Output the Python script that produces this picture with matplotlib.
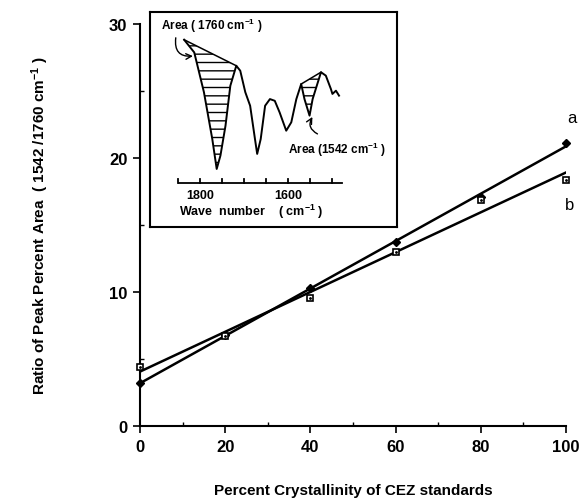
import numpy as np
import matplotlib
matplotlib.use("Agg")
import matplotlib.pyplot as plt
from matplotlib.ticker import MultipleLocator, NullFormatter

plt.rcParams['font.family'] = ['Liberation Sans', 'DejaVu Sans']
plt.rcParams['mathtext.default'] = 'regular'
plt.rcParams['hatch.linewidth'] = 1.0

# CEZ standards: percent crystallinity vs ratio of peak percent area
crystallinity = [0, 20, 40, 60, 80, 100]
ratio_a = [3.2, 6.8, 10.3, 13.7, 17.1, 21.1]
ratio_b = [4.4, 6.7, 9.55, 13.0, 16.9, 18.4]

# inset IR spectrum (sketch), wavenumber vs transmittance (arbitrary units)
wavenumber = [1836, 1813, 1791, 1772, 1762, 1753.5, 1742, 1731, 1717.5, 1708.5,
              1697, 1686, 1675, 1670, 1662, 1652, 1641, 1630, 1619, 1604,
              1592.5, 1581, 1570, 1562.5, 1551, 1544, 1525, 1514, 1502.5, 1499,
              1491, 1484]
transmittance = [87.1, 81.2, 62.7, 40.9, 27.0, 33.2, 47.1, 65.7, 75.0, 72.7,
                 62.7, 56.4, 40.9, 34.0, 40.9, 56.4, 59.5, 58.7, 53.3, 44.8,
                 48.7, 59.5, 66.5, 59.5, 51.8, 59.5, 72.0, 70.4, 64.2, 61.9,
                 63.4, 61.1]

fig = plt.figure(figsize=(5.82, 5.02), dpi=100)
ax = fig.add_axes([0.2405, 0.1494, 0.732, 0.8006])

# fitted lines
xfit = np.array([0, 100])
for ys in (ratio_a, ratio_b):
    k, b = np.polyfit(crystallinity, ys, 1)
    ax.plot(xfit, k * xfit + b, color='black', lw=1.8, zorder=2)

ax.plot(crystallinity, ratio_a, linestyle='none', marker='D', ms=4,
        mfc='black', mec='black', zorder=3, clip_on=False)
ax.plot(crystallinity, ratio_b, linestyle='none', marker='s', ms=5,
        mfc='white', mec='black', mew=1.2, zorder=3, clip_on=False)
ax.plot(crystallinity, ratio_b, linestyle='none', marker='.', ms=2,
        color='black', zorder=4, clip_on=False)

ax.text(101.4, 23.0, 'a', fontsize=12, ha='center', va='center')
ax.text(100.9, 16.5, 'b', fontsize=12, ha='center', va='center')

ax.set_xlim(0, 100)
ax.set_ylim(0, 30)
ax.xaxis.set_major_locator(MultipleLocator(20))
ax.xaxis.set_minor_locator(MultipleLocator(10))
ax.yaxis.set_major_locator(MultipleLocator(10))
ax.yaxis.set_minor_locator(MultipleLocator(5))
ax.xaxis.set_minor_formatter(NullFormatter())
ax.yaxis.set_minor_formatter(NullFormatter())
ax.tick_params(which='major', direction='out', length=5, width=1.2)
ax.tick_params(which='minor', direction='in', length=3, width=1)
ax.tick_params(axis='both', labelsize=12, pad=4)
for lab in ax.get_xticklabels() + ax.get_yticklabels():
    lab.set_fontweight('bold')
ax.spines['top'].set_visible(False)
ax.spines['right'].set_visible(False)
ax.spines['left'].set_linewidth(1.5)
ax.spines['bottom'].set_linewidth(1.5)
ax.set_xlabel('Percent Crystallinity of CEZ standards', fontsize=11,
              fontweight='bold', labelpad=21)
ax.set_ylabel('Ratio of Peak Percent Area  ( 1542 /1760 cm$^{-1}$ )',
              fontsize=11, fontweight='bold', labelpad=42)

# inset
ins = fig.add_axes([0.2577, 0.5458, 0.4244, 0.4283])
ins.set_xlim(1913.6, 1352.3)
ins.set_ylim(0, 100)
ins.set_xticks([])
ins.set_yticks([])
for s in ins.spines.values():
    s.set_linewidth(1.5)

wn = np.array(wavenumber)
tr = np.array(transmittance)
ins.plot(wn, tr, color='black', lw=1.4)

# hatched areas between straight baseline and curve
def hatch_area(x0, x1):
    m = (wn <= x0) & (wn >= x1)
    xs, ys = wn[m], tr[m]
    base = np.interp(xs, [xs[-1], xs[0]], [ys[-1], ys[0]])
    ins.fill_between(xs, ys, base, facecolor='none', edgecolor='black',
                     hatch='--', lw=0)
    ins.plot([xs[0], xs[-1]], [ys[0], ys[-1]], color='black', lw=1.1)

hatch_area(1836, 1717.5)
hatch_area(1570, 1525)

# inset wavenumber axis
axis_y = 20.5
ins.plot([1848, 1477], [axis_y, axis_y], color='black', lw=1.3)
for t in range(1500, 1851, 50):
    ins.plot([t, t], [axis_y, axis_y + 1.8], color='black', lw=1.3)
for t in (1800, 1600):
    ins.text(t, axis_y - 3, str(t), ha='center', va='top', fontsize=9,
             fontweight='bold')
ins.text(1848, 7.5, 'Wave  number    ( cm$^{-1}$ )', ha='left', va='center',
         fontsize=9, fontweight='bold')

ins.text(1888.5, 94, 'Area ( 1760 cm$^{-1}$ )', fontsize=8.5,
         fontweight='bold', ha='left', va='center')
ins.annotate('', xy=(1816, 79.5), xytext=(1855, 88),
             arrowprops=dict(arrowstyle='->', color='black', lw=1,
                             connectionstyle='arc3,rad=0.6',
                             shrinkA=0, shrinkB=0))
ins.text(1600.7, 36.3, 'Area (1542 cm$^{-1}$ )', fontsize=8.5,
         fontweight='bold', ha='left', va='center')
ins.annotate('', xy=(1544.5, 51.2), xytext=(1533, 43.3),
             arrowprops=dict(arrowstyle='->', color='black', lw=1,
                             connectionstyle='arc3,rad=-0.5',
                             shrinkA=0, shrinkB=0))

fig.savefig('out.png', dpi=100)
